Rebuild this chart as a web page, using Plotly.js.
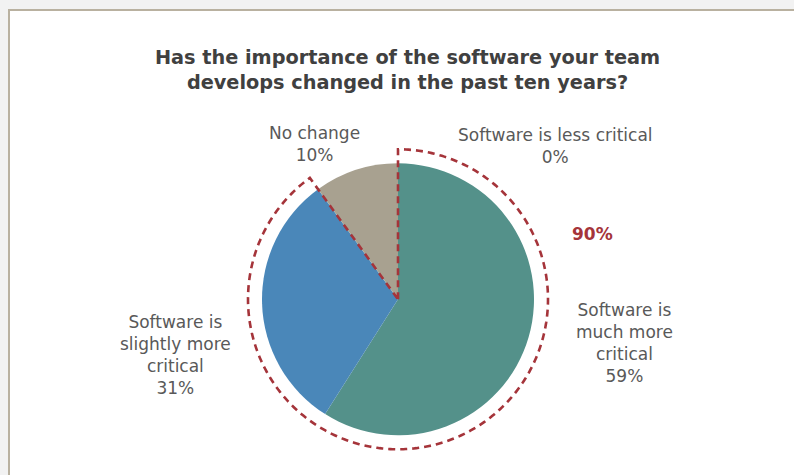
<!DOCTYPE html>
<html>
<head>
<meta charset="utf-8">
<script src="https://cdn.plot.ly/plotly-3.0.1.min.js"></script>
<style>
  html, body { margin:0; padding:0; background:#f2f2f2; width:794px; height:475px; overflow:hidden; }
  #frame { position:absolute; left:8px; top:9px; width:786px; height:466px; background:#ffffff;
           border-left:2px solid #b9b1a0; border-top:2px solid #b9b1a0; box-sizing:border-box; }
  #pie, #outline { position:absolute; left:10px; top:11px; width:784px; height:464px; }
</style>
</head>
<body>
<div id="frame"></div>
<div id="pie"></div>
<div id="outline"></div>
<script>
// ---- data ----
const categories = ["Software is much more critical", "Software is slightly more critical", "No change", "Software is less critical"];
const labelText = ["Software is<br>much more<br>critical", "Software is<br>slightly more<br>critical", "No change", "Software is less critical"];
const values = [59, 31, 10, 0];
const sliceColors = ["#54918a", "#4a87b9", "#a8a190", "#c0504d"];
const highlightIdx = [0, 1];   // slices grouped by the dashed outline
const titleText = "Has the importance of the software your team<br>develops changed in the past ten years?";

// ---- layout helpers ----
const W = 784, H = 464;
const labelPos = [
  {x: 0.7832, y: 0.2845},
  {x: 0.2117, y: 0.2586},
  {x: 0.3878, y: 0.7139},
  {x: 0.6952, y: 0.7080}
];
const textFont = {family: "DejaVu Sans, sans-serif", size: 17, color: "#595959"};

const annotations = categories.map((c, i) => ({
  text: labelText[i] + "<br>" + values[i] + "%",
  x: labelPos[i].x, y: labelPos[i].y, xref: "paper", yref: "paper",
  xanchor: "center", yanchor: "middle", showarrow: false, align: "center",
  font: textFont
}));
const total = values.reduce((a, b) => a + b, 0);
const groupShare = highlightIdx.reduce((a, i) => a + values[i], 0) / total;
annotations.push({
  text: "<b>" + Math.round(groupShare * 100) + "%</b>",
  x: 0.7436, y: 0.5194, xref: "paper", yref: "paper",
  xanchor: "center", yanchor: "middle", showarrow: false,
  font: {family: "DejaVu Sans, sans-serif", size: 17, color: "#a5343a"}
});

Plotly.newPlot("pie", [{
  type: "pie",
  labels: categories,
  values: values,
  sort: false,
  direction: "clockwise",
  rotation: 0,
  textinfo: "none",
  hoverinfo: "skip",
  showlegend: false,
  marker: {colors: sliceColors, line: {width: 0}},
  domain: {x: [0.3214, 0.6684], y: [0.0856, 0.6718]}
}], {
  width: W, height: H,
  margin: {l: 0, r: 0, t: 0, b: 0},
  paper_bgcolor: "rgba(0,0,0,0)",
  title: {
    text: "<b>" + titleText + "</b>",
    x: 0.5070, xanchor: "center", y: 0.8850, yanchor: "middle",
    font: {family: "DejaVu Sans, sans-serif", size: 19.3, color: "#404040"}
  },
  annotations: annotations,
  showlegend: false
}, {staticPlot: true, displayModeBar: false});

// dashed outline around the grouped share, drawn through a polar axis
const endAngle = groupShare * 360;
const th = [0], rr = [0];
for (let a = 0; a <= endAngle; a += 1) { th.push(a); rr.push(1); }
th.push(endAngle); rr.push(1);
th.push(endAngle); rr.push(0);

Plotly.newPlot("outline", [{
  type: "scatterpolar",
  mode: "lines",
  r: rr, theta: th,
  cliponaxis: false,
  line: {color: "#a5343a", width: 2.6, dash: "7px,5px"},
  hoverinfo: "skip",
  showlegend: false
}], {
  width: W, height: H,
  margin: {l: 0, r: 0, t: 0, b: 0},
  paper_bgcolor: "rgba(0,0,0,0)",
  showlegend: false,
  polar: {
    domain: {x: [0.2959, 0.6939], y: [0.0425, 0.7149]},
    bgcolor: "rgba(0,0,0,0)",
    radialaxis: {visible: false, range: [0, 1.04]},
    angularaxis: {visible: false, rotation: 90, direction: "clockwise"}
  }
}, {staticPlot: true, displayModeBar: false});
</script>
</body>
</html>
